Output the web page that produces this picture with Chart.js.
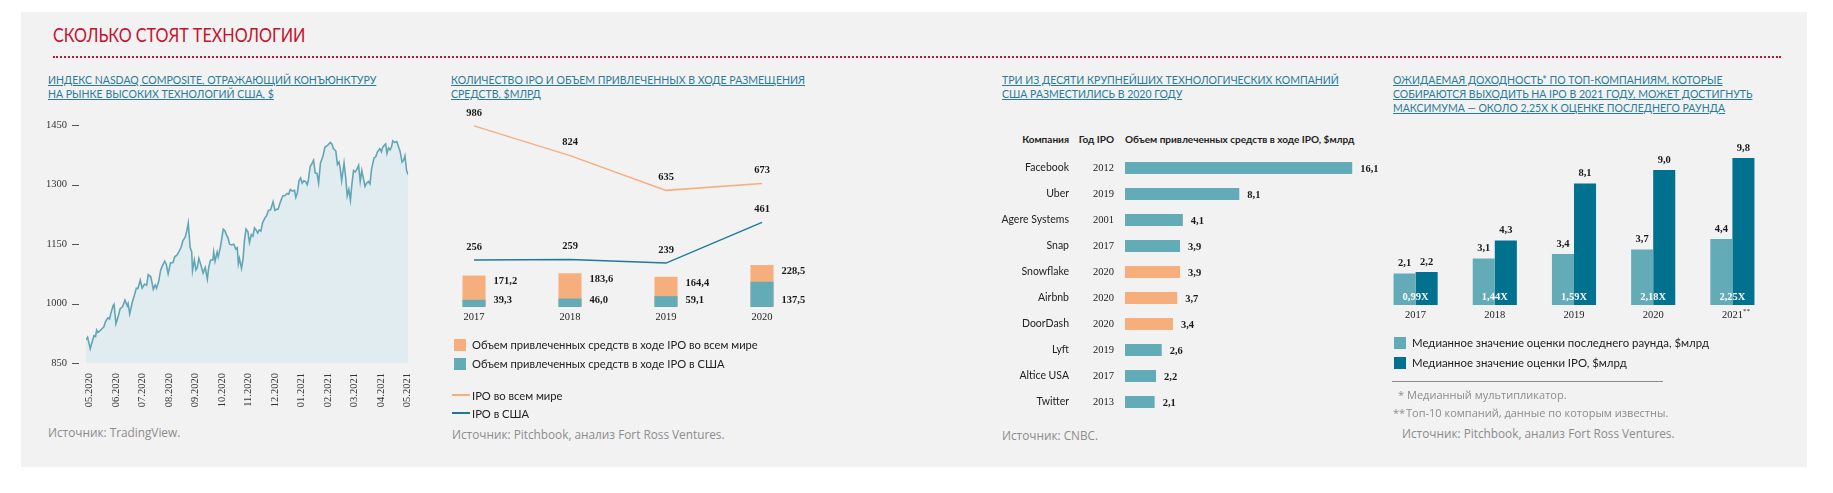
<!DOCTYPE html>
<html>
<head>
<meta charset="utf-8">
<script src="https://cdn.jsdelivr.net/npm/chart.js@4.4.0/dist/chart.umd.min.js"></script>
<style>
body{margin:0;width:1833px;height:493px;background:#fff;position:relative;overflow:hidden;font-family:Lato,sans-serif;}
.a{position:absolute;white-space:nowrap;}
#bg{left:21px;top:12px;width:1786px;height:455px;background:#f2f2f2;}
#title{left:53px;top:25px;font-size:19.5px;line-height:20px;color:#c4122f;transform:scaleX(0.83);transform-origin:0 0;}
#dots{left:53px;top:56px;width:1728px;border-top:2px dotted #c4122f;height:0;}
.pt{top:73px;font-size:11px;line-height:14px;color:#2a7c98;text-decoration:underline;transform:scaleX(0.955);transform-origin:0 0;}
.src{font-family:"Open Sans";font-size:11.8px;color:#8c8c8c;line-height:14px;}
.fn{font-family:"Open Sans";font-size:11px;color:#8c8c8c;line-height:14px;}
.leg{font-size:11.2px;color:#222;line-height:14px;}
.hd{font-size:10px;font-weight:bold;color:#222;line-height:14px;top:132px;}
.sq{width:12px;height:12px;}
canvas{position:absolute;}
</style>
</head>
<body>
<div class="a" id="bg"></div>
<div class="a" id="title">СКОЛЬКО СТОЯТ ТЕХНОЛОГИИ</div>
<div class="a" id="dots"></div>

<div class="a pt" style="left:48px">ИНДЕКС NASDAQ COMPOSITE, ОТРАЖАЮЩИЙ КОНЪЮНКТУРУ<br>НА РЫНКЕ ВЫСОКИХ ТЕХНОЛОГИЙ США, $</div>
<div class="a pt" style="left:451px">КОЛИЧЕСТВО IPO И ОБЪЕМ ПРИВЛЕЧЕННЫХ В ХОДЕ РАЗМЕЩЕНИЯ<br>СРЕДСТВ, $МЛРД</div>
<div class="a pt" style="left:1002px">ТРИ ИЗ ДЕСЯТИ КРУПНЕЙШИХ ТЕХНОЛОГИЧЕСКИХ КОМПАНИЙ<br>США РАЗМЕСТИЛИСЬ В 2020 ГОДУ</div>
<div class="a pt" style="left:1393px">ОЖИДАЕМАЯ ДОХОДНОСТЬ* ПО ТОП-КОМПАНИЯМ, КОТОРЫЕ<br>СОБИРАЮТСЯ ВЫХОДИТЬ НА IPO В 2021 ГОДУ, МОЖЕТ ДОСТИГНУТЬ<br>МАКСИМУМА — ОКОЛО 2,25Х К ОЦЕНКЕ ПОСЛЕДНЕГО РАУНДА</div>

<canvas id="c1" width="390" height="320" style="left:40px;top:100px"></canvas>
<canvas id="c2" width="384" height="225" style="left:426px;top:100px"></canvas>
<canvas id="c3" width="390" height="270" style="left:1000px;top:150px"></canvas>
<canvas id="c4" width="396" height="200" style="left:1376px;top:125px"></canvas>

<!-- panel 2 legend -->
<div class="a sq" style="left:454px;top:339px;background:#f6ae7c"></div>
<div class="a leg" style="left:472px;top:338px">Объем привлеченных средств в ходе IPO во всем мире</div>
<div class="a sq" style="left:454px;top:358px;background:#64abb8"></div>
<div class="a leg" style="left:472px;top:357px">Объем привлеченных средств в ходе IPO в США</div>
<div class="a" style="left:452px;top:394px;width:18px;height:2px;background:#f6ae7c"></div>
<div class="a leg" style="left:472px;top:389px">IPO во всем мире</div>
<div class="a" style="left:452px;top:412px;width:18px;height:2px;background:#1f7a98"></div>
<div class="a leg" style="left:472px;top:407px">IPO в США</div>

<!-- panel 3 header -->
<div class="a hd" style="left:1000px;width:69px;text-align:right">Компания</div>
<div class="a hd" style="left:1070px;width:44px;text-align:right">Год IPO</div>
<div class="a hd" style="left:1125px">Объем привлеченных средств в ходе IPO, $млрд</div>

<!-- panel 4 legend -->
<div class="a sq" style="left:1394px;top:337px;background:#64abb8"></div>
<div class="a leg" style="left:1412px;top:336px;font-size:11.4px">Медианное значение оценки последнего раунда, $млрд</div>
<div class="a sq" style="left:1394px;top:357px;background:#00718f"></div>
<div class="a leg" style="left:1412px;top:356px;font-size:11.4px">Медианное значение оценки IPO, $млрд</div>
<div class="a" style="left:1392px;top:381px;width:271px;height:1px;background:#8a8a8a"></div>
<div class="a fn" style="left:1398px;top:388px">*</div>
<div class="a fn" style="left:1407px;top:388px">Медианный мультипликатор.</div>
<div class="a fn" style="left:1393px;top:406px">**</div>
<div class="a fn" style="left:1406px;top:406px">Топ-10 компаний, данные по которым известны.</div>

<!-- sources -->
<div class="a src" style="left:48px;top:425px">Источник: TradingView.</div>
<div class="a src" style="left:452px;top:427px">Источник: Pitchbook, анализ Fort Ross Ventures.</div>
<div class="a src" style="left:1002px;top:428px">Источник: CNBC.</div>
<div class="a src" style="left:1402px;top:426px">Источник: Pitchbook, анализ Fort Ross Ventures.</div>

<script>
// ---- data ----
// panel 1: index level, x = months since 05.2020
const monthLabels = ['05.2020','06.2020','07.2020','08.2020','09.2020','10.2020','11.2020','12.2020','01.2021','02.2021','03.2021','04.2021','05.2021'];
const nasdaqT = [-0.13,-0.07,0.03,0.11,0.17,0.23,0.27,0.32,0.42,0.48,0.54,0.60,0.69,0.76,0.81,0.89,0.93,1.00,1.07,1.16,
  1.25,1.34,1.43,1.46,1.52,1.62,1.71,1.77,1.83,1.92,1.99,2.08,2.16,2.22,2.32,2.41,2.48,2.53,2.61,2.69,
  2.75,2.84,2.90,2.97,3.06,3.15,3.22,3.30,3.37,3.46,3.53,3.61,3.67,3.73,3.80,3.86,3.89,3.96,4.02,4.07,
  4.13,4.20,4.29,4.37,4.45,4.50,4.57,4.66,4.69,4.74,4.82,4.86,4.94,4.99,5.05,5.11,5.18,5.23,5.29,5.36,
  5.45,5.52,5.58,5.62,5.66,5.74,5.80,5.85,5.91,5.98,6.04,6.11,6.17,6.23,6.29,6.35,6.41,6.47,6.54,
  6.63,6.68,6.76,6.84,6.93,7.00,7.06,7.12,7.21,7.30,7.37,7.46,7.52,7.58,7.67,7.74,7.79,7.85,7.91,7.97,
  8.03,8.09,8.16,8.22,8.26,8.33,8.38,8.46,8.52,8.59,8.65,8.72,8.81,8.89,8.99,9.09,9.15,9.21,9.30,9.36,
  9.42,9.46,9.52,9.61,9.67,9.73,9.79,9.85,9.91,9.97,10.03,10.10,10.16,10.22,10.28,10.34,10.40,10.46,10.53,10.59,
  10.65,10.74,10.81,10.87,10.96,11.02,11.06,11.12,11.18,11.23,11.29,11.35,11.40,11.45,11.51,11.60,11.67,11.73,11.80,11.86,
  11.91,11.97,12.03];
const nasdaqV = [909,915,886,905,919,917,933,927,933,937,941,953,964,961,976,994,998,949,964,987,
  992,1009,994,1000,974,1004,1024,1039,1038,1059,1039,1049,1046,1073,1067,1036,1047,1039,1055,1085,
  1095,1107,1099,1075,1103,1103,1118,1122,1130,1142,1159,1167,1182,1203,1142,1130,1083,1110,1085,1091,
  1114,1099,1077,1091,1062,1091,1110,1110,1130,1107,1130,1118,1142,1162,1188,1184,1172,1166,1150,1148,
  1150,1138,1141,1101,1114,1089,1114,1159,1188,1182,1154,1174,1170,1191,1186,1178,1186,1183,1205,
  1217,1221,1235,1237,1257,1235,1238,1238,1257,1272,1272,1278,1276,1288,1284,1286,1268,1280,1310,1317,
  1304,1310,1308,1300,1310,1346,1351,1362,1330,1328,1304,1355,1371,1395,1399,1407,1403,1391,1385,1351,
  1357,1343,1310,1355,1320,1272,1288,1261,1304,1336,1332,1340,1349,1308,1336,1316,1296,1304,1308,1302,
  1340,1367,1371,1383,1391,1383,1393,1399,1403,1379,1393,1388,1395,1411,1407,1409,1395,1383,1357,1362,
  1373,1336,1325];
const nasdaqTicks = [850,1000,1150,1300,1450];

// panel 2
const ipoYears = ['2017','2018','2019','2020'];
const ipoCountWorld = [986,824,635,673];
const ipoCountUS = [256,259,239,461];
const raisedWorld = [171.2,183.6,164.4,228.5];
const raisedUS = [39.3,46.0,59.1,137.5];

// panel 3
const companies = ['Facebook','Uber','Agere Systems','Snap','Snowflake','Airbnb','DoorDash','Lyft','Altice USA','Twitter'];
const companyIpoYear = ['2012','2019','2001','2017','2020','2020','2020','2019','2017','2013'];
const companyRaised = [16.1,8.1,4.1,3.9,3.9,3.7,3.4,2.6,2.2,2.1];

// panel 4
const valYears = ['2017','2018','2019','2020','2021'];
const lastRoundVal = [2.1,3.1,3.4,3.7,4.4];
const ipoVal = [2.2,4.3,8.1,9.0,9.8];
const multiples = [0.99,1.44,1.59,2.18,2.25];

// ---- styles ----
const ORANGE = '#f6ae7c', TEAL = '#64abb8', DARK = '#00718f', LINEBLUE = '#1f7a98';
const SERIF = '"Liberation Serif", serif';
Chart.defaults.font.family = 'Lato, sans-serif';
Chart.defaults.animation = false;
Chart.defaults.responsive = false;
Chart.defaults.plugins.legend.display = false;
Chart.defaults.plugins.tooltip.enabled = false;

const comma = (v, d) => v.toFixed(d).replace('.', ',');
const noGrid = {display:false, drawTicks:false};
const noBorder = {display:false};

// ---- panel 1 ----
const tickDash = {
  id:'tickDash',
  afterDraw(c){
    const ctx = c.ctx, y = c.scales.y, l = c.chartArea.left;
    ctx.save();
    ctx.strokeStyle = '#555'; ctx.lineWidth = 1;
    y.ticks.forEach(t => {
      const py = Math.round(y.getPixelForValue(t.value)) + 0.5;
      ctx.beginPath(); ctx.moveTo(l - 14, py); ctx.lineTo(l - 7, py); ctx.stroke();
    });
    ctx.restore();
  }
};
new Chart(document.getElementById('c1'), {
  type:'line',
  data:{datasets:[{
    data: nasdaqT.map((t, i) => ({x:t, y:nasdaqV[i]})),
    borderColor:'#62a6b5', borderWidth:1.6, backgroundColor:'#e1ecf1',
    fill:'start', pointRadius:0, tension:0
  }]},
  options:{
    layout:{padding:{top:10, right:14, left:0, bottom:0}},
    scales:{
      x:{type:'linear', min:-0.13, max:12.03,
         afterBuildTicks: s => { s.ticks = monthLabels.map((_, i) => ({value:i})); },
         afterFit: s => { s.height = 57; },
         grid:noGrid, border:noBorder,
         ticks:{autoSkip:false, minRotation:90, maxRotation:90, padding:10, color:'#333',
                font:{family:SERIF, size:10.5}, callback:(v, i) => monthLabels[i]}},
      y:{min:850, max:1450,
         afterBuildTicks: s => { s.ticks = nasdaqTicks.map(v => ({value:v})); },
         afterFit: s => { s.width = 46; },
         grid:noGrid, border:noBorder,
         ticks:{padding:19, color:'#333', font:{family:SERIF, size:10.5}, callback: v => String(v)}}
    }
  },
  plugins:[tickDash]
});

// ---- panel 2 ----
const ipoLabels = {
  id:'ipoLabels',
  afterDatasetsDraw(c){
    const ctx = c.ctx;
    ctx.save();
    ctx.fillStyle = '#1a1a1a';
    ctx.font = 'bold 10.5px ' + SERIF;
    ctx.textBaseline = 'middle';
    c.data.datasets.forEach((ds, di) => {
      c.getDatasetMeta(di).data.forEach((el, i) => {
        if (ds.type === 'line') {
          ctx.textAlign = 'center';
          ctx.fillText(String(ds.data[i]), el.x, el.y - 13);
        } else {
          ctx.textAlign = 'left';
          const y = ds.labelAt === 'top' ? el.y + 6 : el.base - 7;
          ctx.fillText(comma(ds.data[i], 1), el.x + el.width / 2 + 8, y);
        }
      });
    });
    ctx.restore();
  }
};
new Chart(document.getElementById('c2'), {
  type:'bar',
  data:{labels: ipoYears, datasets:[
    {type:'line', data: ipoCountWorld, borderColor:ORANGE, borderWidth:1.5, pointRadius:0, order:0},
    {type:'line', data: ipoCountUS, borderColor:LINEBLUE, borderWidth:1.5, pointRadius:0, order:0},
    {type:'bar', data: raisedUS, backgroundColor:TEAL, grouped:false, barPercentage:0.24, categoryPercentage:1, order:1, labelAt:'bottom'},
    {type:'bar', data: raisedWorld, backgroundColor:ORANGE, grouped:false, barPercentage:0.24, categoryPercentage:1, order:2, labelAt:'top'}
  ]},
  options:{
    scales:{
      x:{offset:true, afterFit: s => { s.height = 18; }, grid:noGrid, border:noBorder,
         ticks:{padding:4, color:'#222', font:{family:SERIF, size:10.5}}},
      y:{display:false, min:0, max:1127}
    }
  },
  plugins:[ipoLabels]
});

// ---- panel 3 ----
const barValueRight = {
  id:'barValueRight',
  afterDatasetsDraw(c){
    const ctx = c.ctx, ds = c.data.datasets[0];
    ctx.save();
    ctx.fillStyle = '#1a1a1a';
    ctx.font = 'bold 10.5px ' + SERIF;
    ctx.textAlign = 'left'; ctx.textBaseline = 'middle';
    c.getDatasetMeta(0).data.forEach((el, i) => ctx.fillText(comma(ds.data[i], 1), el.x + 8, el.y + 1));
    ctx.restore();
  }
};
// keep the row band exact: drop the label half-height padding on the category axes
const fixAxis = w => s => { s.width = w; s.paddingTop = 0; s.paddingBottom = 0; };
new Chart(document.getElementById('c3'), {
  type:'bar',
  data:{labels: companies, datasets:[{
    data: companyRaised,
    backgroundColor: companyIpoYear.map(y => y === '2020' ? ORANGE : TEAL),
    barPercentage:0.46, categoryPercentage:1
  }]},
  options:{
    indexAxis:'y',
    layout:{padding:{top:5, bottom:5, left:0, right:11}},
    scales:{
      x:{display:false, min:0, max:18},
      y:{type:'category', labels: companies, offset:true, weight:1,
         afterFit: fixAxis(69), grid:noGrid, border:noBorder,
         ticks:{padding:0, color:'#222', font:{size:10.5}}},
      y2:{type:'category', labels: companyIpoYear, position:'left', offset:true, weight:0,
          afterFit: fixAxis(56), grid:noGrid, border:noBorder,
          ticks:{padding:11, color:'#222', font:{family:SERIF, size:10.5}}}
    }
  },
  plugins:[barValueRight]
});

// ---- panel 4 ----
const valLabels = {
  id:'valLabels',
  afterDatasetsDraw(c){
    const ctx = c.ctx;
    ctx.save();
    ctx.textBaseline = 'middle'; ctx.textAlign = 'center';
    ctx.fillStyle = '#1a1a1a';
    ctx.font = 'bold 10.5px ' + SERIF;
    c.data.datasets.forEach((ds, di) => {
      c.getDatasetMeta(di).data.forEach((el, i) => ctx.fillText(comma(ds.data[i], 1), el.x, el.y - 10));
    });
    const x = c.scales.x, bottom = c.chartArea.bottom;
    ctx.fillStyle = '#fff';
    multiples.forEach((m, i) => ctx.fillText(comma(m, 2) + 'X', x.getPixelForValue(i), bottom - 8));
    // footnote mark on the last year label
    const last = valYears.length - 1;
    ctx.font = '10.5px ' + SERIF;
    const w = ctx.measureText(valYears[last]).width;
    ctx.fillStyle = '#222'; ctx.textAlign = 'left';
    ctx.font = '7px ' + SERIF;
    ctx.fillText('**', x.getPixelForValue(last) + w / 2, bottom + 6);
    ctx.restore();
  }
};
new Chart(document.getElementById('c4'), {
  type:'bar',
  data:{labels: valYears, datasets:[
    {data: lastRoundVal, backgroundColor:TEAL, barPercentage:1, categoryPercentage:0.557},
    {data: ipoVal, backgroundColor:DARK, barPercentage:1, categoryPercentage:0.557}
  ]},
  options:{
    layout:{padding:{top:5}},
    scales:{
      x:{afterFit: s => { s.height = 20; }, grid:noGrid, border:noBorder,
         ticks:{padding:4, color:'#222', font:{family:SERIF, size:10.5}}},
      y:{display:false, min:0, max:11.67}
    }
  },
  plugins:[valLabels]
});
</script>
</body>
</html>
